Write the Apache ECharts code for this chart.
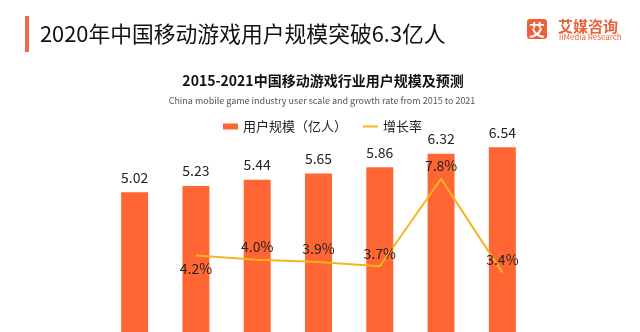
<!DOCTYPE html>
<html>
<head>
<meta charset="utf-8">
<script src="https://cdn.jsdelivr.net/npm/echarts@6/dist/echarts.min.js"></script>
<style>
  html, body { margin: 0; padding: 0; background: #fff; }
  #chart { width: 640px; height: 332px; }
</style>
</head>
<body>
<div id="chart"></div>
<script>
// Mobile game users in China, 2015-2021 (2021 forecast)
const years = ['2015', '2016', '2017', '2018', '2019', '2020', '2021'];
const users = [5.02, 5.23, 5.44, 5.65, 5.86, 6.32, 6.54];      // 亿人
const growth = [null, 4.2, 4.0, 3.9, 3.7, 7.8, 3.4];          // %
const labelBelow = ['2016'];                                  // growth labels placed under the line

const FONT = '"Noto Sans CJK SC", "Noto Sans", sans-serif';
const ORANGE = '#FF6633';
const GOLD = '#F5B51E';
const BRAND = '#E9623B';

const chart = echarts.init(document.getElementById('chart'));

chart.setOption({
  backgroundColor: '#ffffff',
  animation: false,
  textStyle: { fontFamily: FONT },
  graphic: [
    // header accent bar and headline
    { type: 'rect', shape: { x: 25, y: 16, width: 4, height: 36 }, style: { fill: '#EE6A45' } },
    { type: 'text', x: 40, y: 34, style: { text: '2020年中国移动游戏用户规模突破6.3亿人', font: '21.8px ' + FONT, fill: '#111', textVerticalAlign: 'middle' } },
    // brand mark
    { type: 'rect', shape: { x: 527, y: 19, width: 20, height: 20, r: 3 }, style: { fill: BRAND } },
    { type: 'text', x: 537, y: 29.5, style: { text: '艾', font: 'bold 16px ' + FONT, fill: '#fff', textAlign: 'center', textVerticalAlign: 'middle' } },
    { type: 'text', x: 558, y: 26, style: { text: '艾媒咨询', font: 'bold 15px ' + FONT, fill: BRAND, textVerticalAlign: 'middle' } },
    { type: 'text', x: 559, y: 36.5, style: { text: 'iiMedia Research', font: '8px ' + FONT, fill: BRAND, textVerticalAlign: 'middle' } },
    // chart title block
    { type: 'text', x: 323, y: 81, style: { text: '2015-2021中国移动游戏行业用户规模及预测', font: 'bold 14px ' + FONT, fill: '#111', textAlign: 'center', textVerticalAlign: 'middle' } },
    { type: 'text', x: 322, y: 101, style: { text: 'China mobile game industry user scale and growth rate from 2015 to 2021', font: '9px ' + FONT, fill: '#555', textAlign: 'center', textVerticalAlign: 'middle' } }
  ],
  legend: {
    top: 115,
    left: 218,
    itemGap: 16,
    itemWidth: 15,
    itemHeight: 6,
    textStyle: { fontSize: 13, color: '#222', fontFamily: FONT },
    data: [
      { name: '用户规模（亿人）', icon: 'rect' },
      { name: '增长率', icon: 'path://M0,0H30V4H0Z' }
    ]
  },
  grid: { left: 104, right: 107, top: 104, bottom: 0 },
  xAxis: {
    type: 'category',
    data: years,
    show: false
  },
  // the bars run past the bottom edge, so both value axes start a little above zero
  yAxis: [
    { type: 'value', min: 0.3, max: 8.0, show: false, splitLine: { show: false } },
    { type: 'value', min: 0.62, max: 11.3, show: false, splitLine: { show: false } }
  ],
  series: [
    {
      name: '用户规模（亿人）',
      type: 'bar',
      data: users,
      barWidth: '44%',
      itemStyle: { color: ORANGE },
      label: {
        show: true,
        position: 'top',
        distance: 8,
        fontSize: 14,
        color: '#222',
        fontFamily: FONT
      }
    },
    {
      name: '增长率',
      type: 'line',
      yAxisIndex: 1,
      data: growth.map((v, i) => ({
        value: v,
        label: { position: labelBelow.includes(years[i]) ? 'bottom' : 'top' }
      })),
      symbol: 'circle',
      symbolSize: 0,
      showSymbol: true,
      lineStyle: { color: GOLD, width: 2 },
      itemStyle: { color: GOLD },
      label: {
        show: true,
        distance: 6,
        fontSize: 14,
        color: '#222',
        fontFamily: FONT,
        formatter: p => p.value == null ? '' : p.value.toFixed(1) + '%'
      }
    }
  ]
});
</script>
</body>
</html>
